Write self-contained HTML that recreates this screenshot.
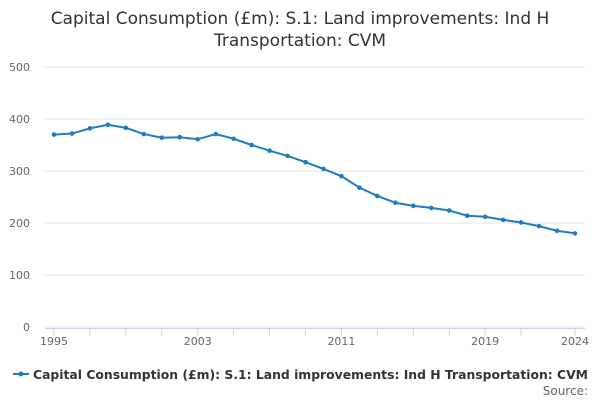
<!DOCTYPE html>
<html><head><meta charset="utf-8"><style>
body{margin:0;background:#fff;font-family:"Liberation Sans","DejaVu Sans",sans-serif;}
svg text{font-family:"DejaVu Sans","Liberation Sans",sans-serif;}
</style></head><body>
<svg id="c" width="600" height="400">
<text x="300" y="24" text-anchor="middle" font-size="17" fill="#333">Capital Consumption (£m): S.1: Land improvements: Ind H</text>
<text x="300" y="46" text-anchor="middle" font-size="17" fill="#333">Transportation: CVM</text>
<g id="grid"></g><g id="axes"></g><g id="series"></g>
<g>
<line x1="13" y1="374" x2="29" y2="374" stroke="#1f7cc1" stroke-width="2"/>
<circle cx="21" cy="374" r="2.5" fill="#1f7cc1"/>
<text x="33" y="379" font-size="12.5" font-weight="bold" fill="#333" textLength="555" lengthAdjust="spacingAndGlyphs">Capital Consumption (£m): S.1: Land improvements: Ind H Transportation: CVM</text>
</g>
<text x="588" y="395" text-anchor="end" font-size="12" fill="#666">Source:</text>
</svg>
<script>
const years=[1995,1996,1997,1998,1999,2000,2001,2002,2003,2004,2005,2006,2007,2008,2009,2010,2011,2012,2013,2014,2015,2016,2017,2018,2019,2020,2021,2022,2023,2024];
const values=[370,372,382,389,383,371,364,365,361,371,362,350,339,329,317,304,290,268,252,239,233,229,224,214,212,206,201,194,185,180];
const yTicks=[0,100,200,300,400,500];
const xLabels=[1995,2003,2011,2019,2024];
const xTicks=[1995,1997,1999,2001,2003,2005,2007,2009,2011,2013,2015,2017,2019,2021,2024];
const NS="http://www.w3.org/2000/svg";
const x=v=>54+(v-1995)*(575-54)/29;
const y=v=>327-v*0.52;
function mk(t,a,p){const e=document.createElementNS(NS,t);for(const k in a)e.setAttribute(k,a[k]);p.appendChild(e);return e;}
const g=document.getElementById('grid'),ax=document.getElementById('axes'),s=document.getElementById('series');
yTicks.forEach(v=>{
 const l=mk('line',{x1:45,x2:585,y1:y(v),y2:y(v),stroke:'#e6e6e6'},g);
 
 
 const t=mk('text',{x:30,y:y(v)+4,'text-anchor':'end','font-size':11,fill:'#666'},ax);t.textContent=v;
 
 
});
const axl=mk('line',{x1:45,x2:585,y1:328.5,y2:328.5,stroke:'#ccd6eb'},ax);


xTicks.forEach(v=>{const l=mk('line',{x1:x(v),x2:x(v),y1:328,y2:336,stroke:'#ccd6eb'},ax);
 
 });
xLabels.forEach(v=>{const t=mk('text',{x:x(v),y:345,'text-anchor':'middle','font-size':11,fill:'#666'},ax);t.textContent=v;
 
 });
const p=mk('polyline',{points:years.map((yr,i)=>x(yr)+','+y(values[i])).join(' '),fill:'none',stroke:'#1f7cc1','stroke-width':2},s);


years.forEach((yr,i)=>{const c=mk('circle',{cx:x(yr),cy:y(values[i]),r:2.3,fill:'#1f7cc1'},s);
 
 });
</script>
</body></html>
